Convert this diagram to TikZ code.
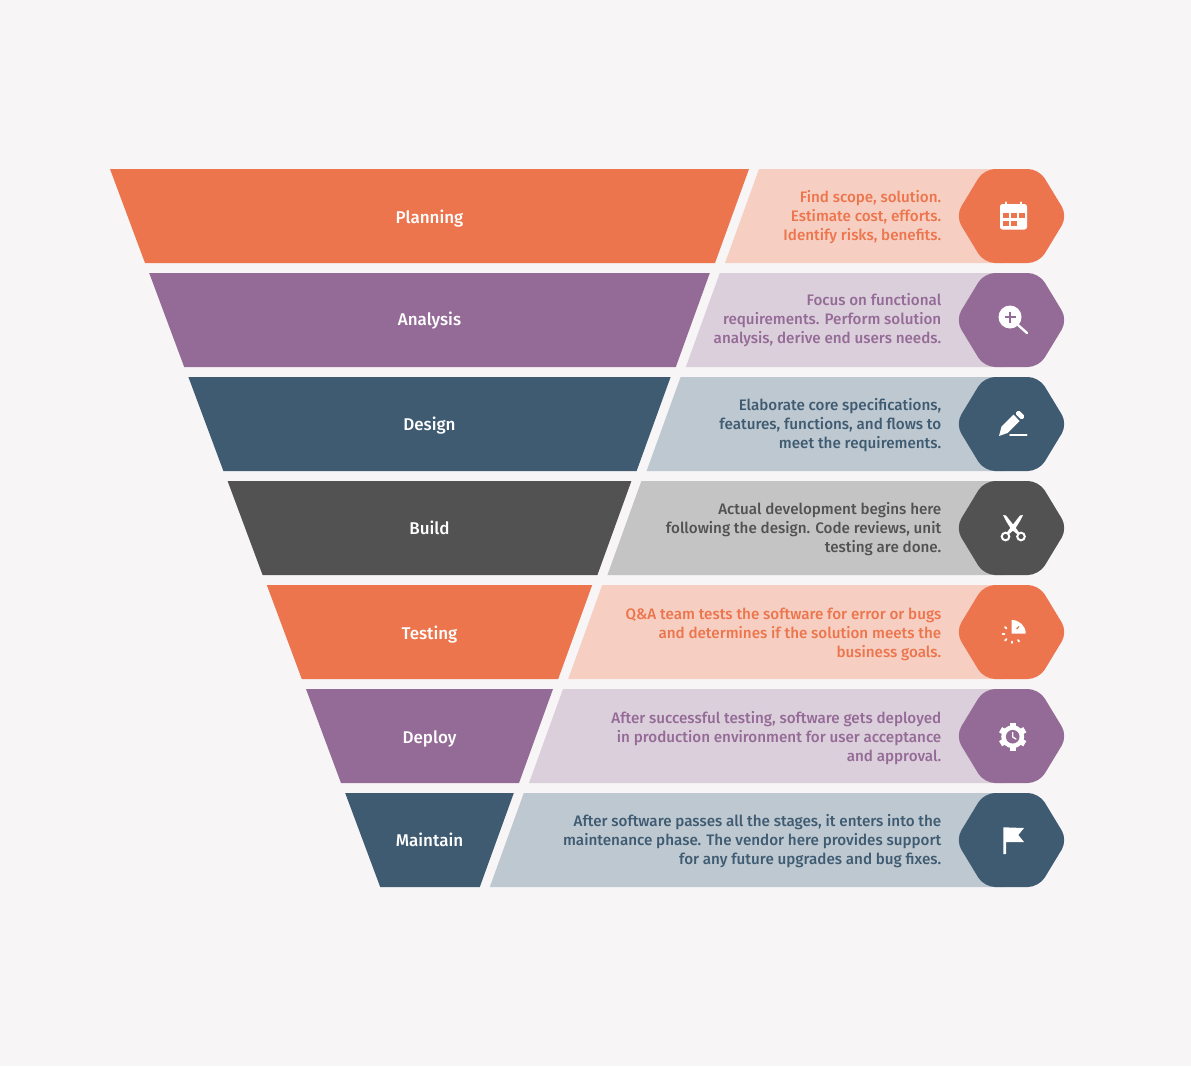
\documentclass[tikz,border=0pt]{standalone}
\usepackage{fontspec}
\setmainfont{Fira Sans}
\newfontfamily\medfont{Fira Sans Medium}
\definecolor{pagebg}{HTML}{F7F5F6}
\definecolor{cOrange}{HTML}{EC754D}
\definecolor{cPurple}{HTML}{946B96}
\definecolor{cBlue}{HTML}{3F5B72}
\definecolor{cGray}{HTML}{525252}
\definecolor{lOrange}{HTML}{F6CFC2}
\definecolor{lPurple}{HTML}{DCCFDC}
\definecolor{lBlue}{HTML}{BEC8D0}
\definecolor{lGray}{HTML}{C4C4C4}
\tikzset{
  stagelabel/.style={text=white,font=\medfont\fontsize{17}{19}\selectfont,inner sep=0pt,anchor=base},
  stagetext/.style={font=\medfont\fontsize{15.2}{19}\selectfont,align=right,anchor=east,inner sep=0pt},
  icon/.style={fill=white,draw=none},
  iconline/.style={draw=white,line cap=round,line join=round}
}
% #1 index, #2 name, #3 colour, #4 light colour, #5 label, #6 description, #7 label y, #8 text y
\newcommand{\funnelrow}[8]{
  \pgfmathsetmacro{\ytop}{169+104*#1}
  \pgfmathsetmacro{\ybot}{\ytop+94}
  \pgfmathsetmacro{\ymid}{\ytop+47}
  \pgfmathsetmacro{\lt}{110+39.2*#1}
  \pgfmathsetmacro{\lb}{145+39.2*#1}
  \pgfmathsetmacro{\rt}{749-39.2*#1}
  \pgfmathsetmacro{\rb}{715-39.2*#1}
  \pgfmathsetmacro{\bt}{759-39.2*#1}
  \pgfmathsetmacro{\bb}{725-39.2*#1}
  \fill[#3] (\lt,\ytop) -- (\rt,\ytop) -- (\rb,\ybot) -- (\lb,\ybot) -- cycle;
  \fill[#4] (\bt,\ytop) -- (1005,\ytop) -- (1005,\ybot) -- (\bb,\ybot) -- cycle;
  \fill[#3,rounded corners=11pt] (955.5,\ymid) -- (984,\ytop) -- (1039,\ytop) -- (1067.5,\ymid) -- (1039,\ybot) -- (984,\ybot) -- cycle;
  \node[stagelabel] (#2) at (429.5,#7+6) {#5};
  \node[stagetext,text=#3] (#2text) at (941.5,#8) {#6};
}
\begin{document}
\begin{tikzpicture}[x=1pt,y=-1pt]
\useasboundingbox (0,0) rectangle (1191,1066);
\fill[pagebg] (0,0) rectangle (1191,1066);

\funnelrow{0}{planning}{cOrange}{lOrange}{Planning}{Find scope, solution.\\Estimate cost, efforts.\\Identify risks, benefits.}{217}{217}
\funnelrow{1}{analysis}{cPurple}{lPurple}{Analysis}{Focus on functional\\requirements. Perform solution\\analysis, derive end users needs.}{319}{320}
\funnelrow{2}{design}{cBlue}{lBlue}{Design}{Elaborate core specifications,\\features, functions, and flows to\\meet the requirements.}{424}{425}
\funnelrow{3}{build}{cGray}{lGray}{Build}{Actual development begins here\\following the design. Code reviews, unit\\testing are done.}{528}{529}
\funnelrow{4}{testing}{cOrange}{lOrange}{Testing}{Q\&A team tests the software for error or bugs\\and determines if the solution meets the\\business goals.}{633}{634}
\funnelrow{5}{deploy}{cPurple}{lPurple}{Deploy}{After successful testing, software gets deployed\\in production environment for user acceptance\\and approval.}{737}{738}
\funnelrow{6}{maintain}{cBlue}{lBlue}{Maintain}{After software passes all the stages, it enters into the\\maintenance phase. The vendor here provides support\\for any future upgrades and bug fixes.}{840}{841}

% calendar icon
\fill[icon,rounded corners=2.5pt] (1000,204) rectangle (1027,229.5);
\draw[iconline,line width=2.4pt] (1006,202.5) -- (1006,205);
\draw[iconline,line width=2.4pt] (1021,202.5) -- (1021,205);
\foreach \cx/\cy in {1003/213,1011/213,1019/213,1003/220.5,1011/220.5}
  \fill[cOrange] (\cx,\cy) rectangle +(5.5,5);

% magnifier icon
\fill[icon] (1010,317) circle (11.5);
\draw[iconline,line width=2.4pt] (1018,325) -- (1027,333);
\draw[draw=cPurple,line width=2pt] (1004.5,317) -- (1015.5,317) (1010,311.5) -- (1010,322.5);

% pencil icon
\fill[icon] (999,436) -- (1001.5,426.5) -- (1013.5,414.5) -- (1019.5,421) -- (1007.5,433) -- cycle;
\fill[icon,rounded corners=1.5pt] (1015,413.5) -- (1018.5,410) -- (1025,416.5) -- (1021.5,420) -- cycle;
\draw[iconline,line width=2pt] (1010,434.5) -- (1026.5,434.5);

% scissors icon
\fill[icon] (1003,515) -- (1006,515.5) -- (1015,527) -- (1019.5,533) -- (1017.5,534.5) -- (1011,529) -- (1006,521) -- cycle;
\fill[icon] (1023,515) -- (1020,515.5) -- (1011,527) -- (1006.5,533) -- (1008.5,534.5) -- (1015,529) -- (1020,521) -- cycle;
\draw[draw=white,line width=2pt] (1005.5,536.5) circle (3.8);
\draw[draw=white,line width=2pt] (1021,536.5) circle (3.8);

% pie icon
\fill[icon] (1011.7,633.5) -- (1011.7,620) .. controls (1019.4,620) and (1025.7,625.8) .. (1025.7,633.5) -- cycle;
\draw[draw=cOrange,line width=1.2pt] (1016.5,629) -- (1019,626.5);
\foreach \dx/\dy/\ex/\ey in {1005/627/1006.5/628.5,1002.5/633.7/1004.5/633.7,1005/640.5/1006.5/639,1012.3/641.5/1012.3/643,1018/640/1019/641.5}
  \draw[iconline,line width=1.8pt] (\dx,\dy) -- (\ex,\ey);

% gear icon
\fill[icon] (1012.7,736.7) circle (11.5);
\foreach \a in {0,60,...,300}
  \draw[draw=white,line width=6pt] (1012.7,736.7) ++(\a+30:9) -- ++(\a+30:5);
\fill[cPurple] (1012.7,736.7) circle (6.8);
\draw[iconline,line width=1.3pt] (1012.7,732.5) -- (1012.7,737) -- (1016,739);

% flag icon
\fill[icon] (1003.3,827.3) -- (1024,828) -- (1018.3,835) -- (1024,842) -- (1006,842) -- (1006,854) -- (1003.3,854) -- cycle;
\end{tikzpicture}
\end{document}
